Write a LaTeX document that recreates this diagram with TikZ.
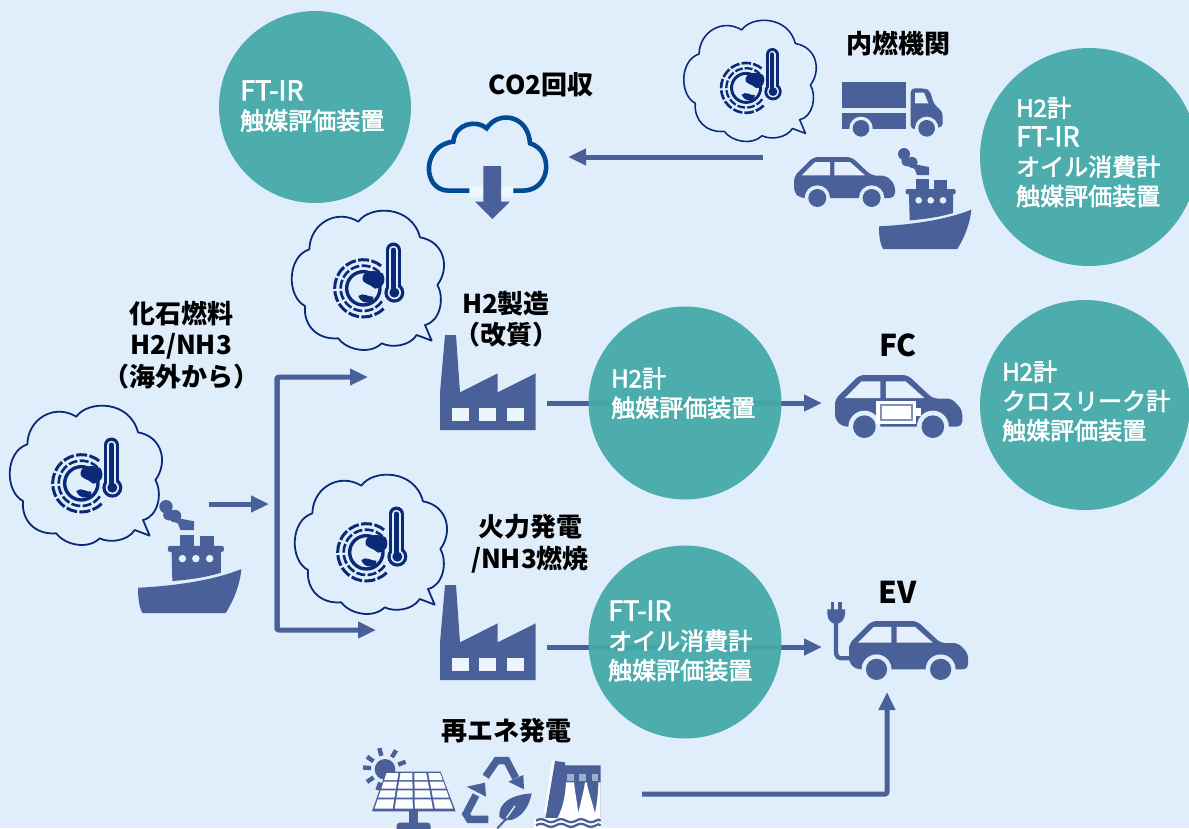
\documentclass[tikz,border=0pt]{standalone}
\usepackage{fontspec}
\setmainfont{Noto Sans CJK JP}
\newfontfamily\whitefont[FakeBold=2.5]{Noto Sans CJK JP}
\usetikzlibrary{arrows.meta}
\definecolor{bgc}{HTML}{E0EEFC}
\definecolor{tealc}{HTML}{44A9A9}
\definecolor{iconc}{HTML}{4A6098}
\definecolor{navyc}{HTML}{0A2A78}
\definecolor{cloudc}{HTML}{004A96}
\newcommand{\ftir}{{\fontsize{27}{29.4}\selectfont FT-IR}}
\newcommand{\largelatin}[1]{{\fontsize{30}{31}\selectfont #1}}
\tikzset{
  flow/.style={draw=iconc,line width=5pt,-{Triangle[length=18pt,width=16pt]}},
  disc/.style={circle,fill=tealc,fill opacity=0.94,draw=none,inner sep=0pt},
  blacklab/.style={inner sep=0pt,align=center,text=black,font=\fontsize{26}{31.5}\selectfont\bfseries},
  whitelab/.style={inner sep=0pt,align=left,text=white,anchor=west,font=\fontsize{24}{29.4}\selectfont\whitefont},
  icon/.style={fill=iconc,draw=none},
  gap/.style={fill=bgc,draw=none},
}
% thought bubble with globe and thermometer
\newcommand{\bubble}[3]{%
\begin{scope}[shift={(#1,#2)},scale=#3/3,shift={(-36,-24)}]
\pgfmathsetmacro{\bs}{#3}
\draw[navyc,line width=\bs*1.8pt,line join=round]
 (235,65) .. controls (270,15) and (395,15) .. (420,112)
 .. controls (495,125) and (510,205) .. (472,255)
 .. controls (495,295) and (480,365) .. (435,375)
 -- (455,422) -- (410,405)
 .. controls (390,438) and (335,445) .. (305,430)
 .. controls (270,465) and (200,450) .. (175,415)
 .. controls (110,420) and (70,375) .. (75,318)
 .. controls (20,290) and (20,170) .. (88,148)
 .. controls (90,70) and (170,25) .. (235,65) -- cycle;
\draw[navyc,line width=\bs*3.4pt] (250,265) circle (50);
\draw[navyc,line width=\bs*2.6pt,dash pattern=on \bs*9pt off \bs*2.4pt] (250,265) ++(35:68) arc (35:315:68);
\draw[navyc,line width=\bs*3pt,dash pattern=on \bs*11pt off \bs*2.4pt] (250,265) ++(45:86) arc (45:310:86);
\fill[navyc] (248,232) .. controls (250,212) and (285,208) .. (308,220) .. controls (322,245) and (305,268) .. (285,266) .. controls (270,250) and (243,252) .. (248,232) -- cycle;
\fill[navyc] (235,288) .. controls (250,275) and (265,292) .. (280,290) .. controls (284,312) and (243,316) .. (235,288) -- cycle;
\draw[navyc,line width=\bs*15pt,line cap=round] (340,150) -- (340,270);
\fill[navyc] (343,278) circle (30);
\draw[bgc,line width=\bs*8.4pt,line cap=round] (340,150) -- (340,270);
\fill[bgc] (343,278) circle (20);
\draw[navyc,line width=\bs*5pt,line cap=round] (340,150) -- (340,270);
\fill[navyc] (343,278) circle (15);
\end{scope}}
% factory
\newcommand{\factory}[2]{%
\begin{scope}[shift={(#1,#2)},scale=1/3,shift={(-30,-33)}]
\fill[icon] (30,318) -- (30,205) -- (45,33) -- (78,33) -- (90,205) -- (203,148) -- (203,205) -- (317,148) -- (317,318) -- cycle;
\foreach \wx in {66,148,232} \fill[bgc!60!white] (\wx,252) rectangle ++(50,38);
\end{scope}}
% car
\newcommand{\carshape}[3]{%
\begin{scope}[shift={(#1,#2)},scale=#3/3,shift={(-42,-262)}]
\fill[icon,rounded corners=5pt] (42,320) -- (100,262) -- (215,262) -- (275,318) -- (320,318) -- (345,345) -- (345,385) -- (60,385) -- (42,368) -- cycle;
\fill[bgc!85!white] (65,317) -- (105,277) -- (150,277) -- (150,317) -- cycle;
\fill[bgc!85!white] (163,277) -- (210,277) -- (255,317) -- (163,317) -- cycle;
\foreach \wx in {112,275} {\fill[gap] (\wx,385) circle (38); \fill[icon] (\wx,385) circle (27);}
\end{scope}}
% ship
\newcommand{\ship}[3]{%
\begin{scope}[shift={(#1,#2)},scale=#3/3,shift={(-298,-235)}]
\fill[icon] (298,470) .. controls (400,465) and (500,450) .. (575,420) .. controls (570,470) and (550,510) .. (533,538) -- (310,538) .. controls (300,520) and (298,495) .. (298,470) -- cycle;
\fill[icon] (388,370) -- (520,370) -- (520,430) .. controls (480,442) and (440,448) .. (390,452) -- cycle;
\fill[icon,rounded corners=2pt] (378,358) rectangle (528,374);
\fill[icon] (410,328) rectangle (448,360);
\fill[icon] (463,332) rectangle (502,360);
\foreach \px in {417,453,490} \fill[bgc!85!white] (\px,392) circle (10);
\fill[icon] (373,253) circle (18) (397,278) circle (17) (380,275) circle (15);
\fill[icon] (385,288) -- (412,285) -- (448,292) -- (448,316) -- (412,316) -- (405,298) -- cycle;
\end{scope}}
\begin{document}
\begin{tikzpicture}[x=1pt,y=-1pt]
\useasboundingbox (0,0) rectangle (1189,828);
\fill[bgc] (0,0) rectangle (1189,828);
\clip (0,0) rectangle (1189,828);

% connector ends
\coordinate (engineOut) at (763,157);
\coordinate (cloudIn) at (568,157);
\coordinate (shipOut) at (209,504);
\coordinate (branch) at (269,504);
\coordinate (trunkTop) at (277,377);
\coordinate (trunkBottom) at (277,630);
\coordinate (toH2) at (368,377);
\coordinate (toPower) at (376,630);
\coordinate (h2Out) at (547,403);
\coordinate (fcIn) at (822,403);
\coordinate (powerOut) at (547,647);
\coordinate (evIn) at (822,647);
\coordinate (renewOut) at (642,794);
\coordinate (renewCorner) at (887,794);
\coordinate (evBottom) at (887,692);

\draw[flow] (engineOut) -- (cloudIn);
\draw[flow] (shipOut) -- (branch);
\draw[flow,rounded corners=2pt] (trunkBottom) -- (trunkTop) -- (toH2);
\draw[flow,rounded corners=2pt] (trunkTop) -- (trunkBottom) -- (toPower);
\draw[flow] (h2Out) -- (fcIn);
\draw[flow] (powerOut) -- (evIn);
\draw[flow,rounded corners=2pt] (renewOut) -- (renewCorner) -- (evBottom);

% discs
\node[disc,minimum size=192pt] (discA) at (315,107) {};
\node[disc,minimum size=218pt] (discB) at (1089,157) {};
\node[disc,minimum size=193pt] (discC) at (685,403) {};
\node[disc,minimum size=210pt] (discD) at (1085,405) {};
\node[disc,minimum size=193pt] (discE) at (685,642) {};

\node[whitelab] (tA) at (240,106) {\ftir\\触媒評価装置};
\node[whitelab] (tB) at (1016,152) {H2計\\\ftir\\オイル消費計\\触媒評価装置};
\node[whitelab] (tC) at (611,393) {H2計\\触媒評価装置};
\node[whitelab] (tD) at (1002,401) {H2計\\クロスリーク計\\触媒評価装置};
\node[whitelab] (tE) at (608,641) {\ftir\\オイル消費計\\触媒評価装置};

% black labels
\node[blacklab] (lCO) at (541,85) {CO2回収};
\node[blacklab] (lEngine) at (898,44) {内燃機関};
\node[blacklab] (lFossil) at (181,345) {化石燃料\\H2/NH3\\（海外から）};
\node[blacklab] (lH2) at (506,319) {H2製造\\（改質）};
\node[blacklab] (lFC) at (898,345) {\largelatin{FC}};
\node[blacklab] (lPower) at (530,544) {火力発電\\/NH3燃焼};
\node[blacklab] (lEV) at (898,592) {\largelatin{EV}};
\node[blacklab] (lRenew) at (506,731) {再エネ発電};

% thought bubbles
\bubble{292}{208}{1}
\bubble{295}{472}{1}
\bubble{10}{403}{1}
\bubble{684}{18}{0.87}

% CO2 cloud
\begin{scope}[shift={(420,110)},scale=1/3]
\draw[cloudc,line width=4.6pt,line cap=butt] (148,242) -- (85,242) .. controls (5,240) and (5,105) .. (100,95) .. controls (105,40) and (170,28) .. (200,55) .. controls (235,0) and (325,15) .. (330,100) .. controls (400,120) and (395,240) .. (310,242) -- (280,242);
\fill[bgc!55!white] (150,228) rectangle (278,262);
\fill[icon] (190,168) -- (243,168) -- (243,275) -- (270,275) -- (217,327) -- (165,275) -- (190,275) -- cycle;
\end{scope}

% truck
\begin{scope}[shift={(780,70)},scale=1/3]
\fill[icon] (187,35) rectangle (378,115);
\fill[icon] (187,130) rectangle (378,178);
\fill[icon,rounded corners=4pt] (392,55) -- (435,55) -- (450,62) -- (462,103) -- (488,125) -- (488,172) -- (392,178) -- cycle;
\fill[bgc!85!white] (405,68) -- (432,68) -- (445,100) -- (405,100) -- cycle;
\foreach \wx in {243,440} {\fill[gap] (\wx,175) circle (35); \fill[icon] (\wx,175) circle (25);}
\end{scope}

\carshape{794}{157}{1}
\ship{879}{148}{1}
\ship{138}{500}{1.12}
\factory{440}{335}
\factory{440}{585}

% FC car and battery
\carshape{835}{375}{1.26}
\begin{scope}[shift={(810,360)},scale=1/3]
\fill[white] (198,122) rectangle (318,192);
\fill[white] (318,145) rectangle (332,168);
\fill[iconc!70!white] (210,132) rectangle (310,182);
\fill[white] (217,138) rectangle (304,176);
\end{scope}

% EV car and plug
\carshape{849}{621}{1.18}
\begin{scope}[shift={(810,590)},scale=1/3]
\draw[iconc,line width=4.3pt] (78,95) -- (78,185) .. controls (78,200) and (85,205) .. (98,205) -- (125,205);
\fill[icon] (52,58) -- (105,58) -- (105,72) .. controls (105,90) and (90,102) .. (78,102) .. controls (66,102) and (52,90) .. (52,72) -- cycle;
\fill[icon] (62,35) rectangle (72,60);
\fill[icon] (85,35) rectangle (95,60);
\end{scope}

% solar, recycle
\begin{scope}[shift={(350,740)},scale=1/3]
\fill[icon] (105,88) circle (31);
\foreach \ang in {-145,-105,-60,-20,20,185,145,110}
  \draw[iconc,line width=4.4pt] (105,88) ++(\ang:42) -- ++(\ang:24);
\fill[icon] (108,95) -- (272,95) -- (317,214) -- (66,214) -- cycle;
\foreach \ya/\yb in {99/120,125/146,151/173,178/206}
 \foreach \c in {0,1,2,3} {
  \pgfmathsetmacro{\la}{108-40*(\ya-95)/119}
  \pgfmathsetmacro{\ra}{272+43*(\ya-95)/119}
  \pgfmathsetmacro{\lb}{108-40*(\yb-95)/119}
  \pgfmathsetmacro{\rb}{272+43*(\yb-95)/119}
  \pgfmathsetmacro{\xa}{\la+(\ra-\la)*\c/4+3}
  \pgfmathsetmacro{\xb}{\la+(\ra-\la)*(\c+1)/4-3}
  \pgfmathsetmacro{\xc}{\lb+(\rb-\lb)*(\c+1)/4-3}
  \pgfmathsetmacro{\xd}{\lb+(\rb-\lb)*\c/4+3}
  \fill[white!90!bgc] (\xa,\ya) -- (\xb,\ya) -- (\xc,\yb) -- (\xd,\yb) -- cycle;
 }
\fill[icon] (178,214) rectangle (205,252);
\fill[icon,rounded corners=3pt] (140,248) rectangle (242,275);
\draw[iconc,line width=7.4pt,line join=miter] (407,110) -- (440,62) -- (470,62) -- (497,114);
\fill[icon] (475,125) -- (520,105) -- (522,148) -- cycle;
\draw[iconc,line width=7.4pt,line join=miter] (415,238) -- (358,238) -- (348,222) -- (378,165);
\fill[icon] (350,140) -- (405,128) -- (408,170) -- cycle;
\fill[icon] (545,160) .. controls (480,165) and (445,190) .. (448,230) .. controls (465,255) and (530,240) .. (545,160) -- cycle;
\draw[bgc,line width=1.4pt] (495,198) -- (465,240);
\draw[iconc,line width=2pt] (470,235) -- (442,265);
\end{scope}

% dam
\begin{scope}[shift={(530,750)},scale=1/3]
\fill[white!85!bgc] (66,30) -- (75,28) -- (75,36) -- (50,190) -- (42,190) -- cycle;
\fill[icon] (75,33) -- (105,37) -- (105,46) -- (212,46) -- (212,240) -- (40,240) -- (48,195) -- cycle;
\foreach \gx in {108,145,182} {
  \fill[iconc!45!bgc] (\gx+3,72) rectangle ++(20,22);
}
\fill[white] (108,97) .. controls (105,150) and (95,180) .. (82,205) -- (212,205) -- (212,97) -- (205,97) .. controls (205,130) and (200,165) .. (195,190) .. controls (185,150) and (175,125) .. (170,97) -- (165,97) .. controls (160,130) and (150,165) .. (145,190) .. controls (140,150) and (135,125) .. (132,97) -- cycle;
\fill[white] (12,203) rectangle (212,240);
\foreach \wy in {212,226}
  \draw[iconc,line width=2.3pt] (18,\wy) .. controls (28,\wy-6) and (38,\wy-6) .. (48,\wy) .. controls (58,\wy+6) and (68,\wy+6) .. (78,\wy) .. controls (88,\wy-6) and (98,\wy-6) .. (108,\wy) .. controls (118,\wy+6) and (128,\wy+6) .. (138,\wy) .. controls (148,\wy-6) and (158,\wy-6) .. (168,\wy) .. controls (178,\wy+6) and (188,\wy+6) .. (198,\wy) .. controls (203,\wy-4) and (208,\wy-4) .. (212,\wy);
\end{scope}
\end{tikzpicture}
\end{document}
